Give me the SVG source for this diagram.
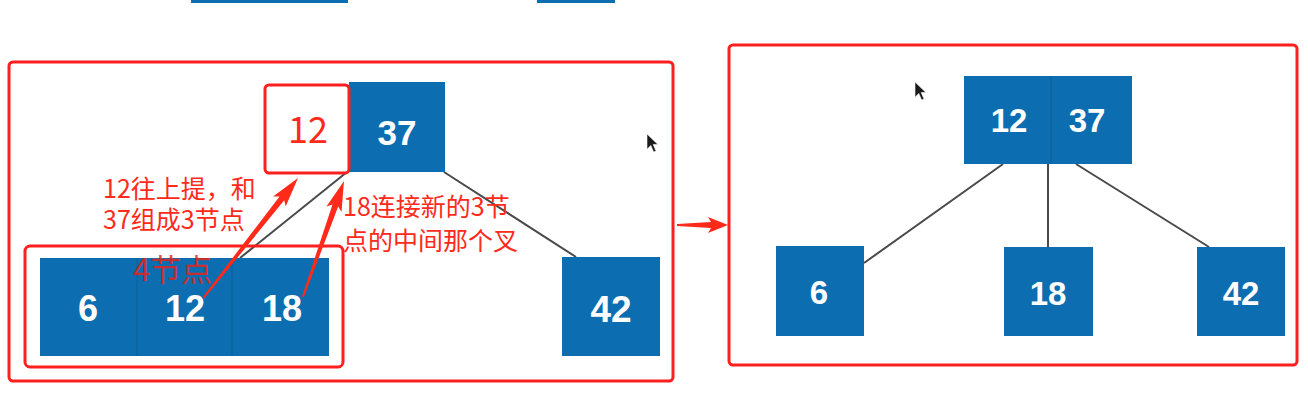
<svg xmlns="http://www.w3.org/2000/svg" width="1308" height="407" viewBox="0 0 1308 407">
<style>
.blk{fill:#0c6eb0}
.div{stroke:#0a5e98;stroke-width:1}
.num{font-family:"Liberation Sans",Arial,sans-serif;font-weight:bold;fill:#fff;text-anchor:middle}
.frame{fill:none;stroke:#ff1f1f;stroke-width:3}
.edge{stroke:#4a4a4a;stroke-width:2;fill:none}
.note{font-family:"Noto Sans CJK SC","Noto Sans",sans-serif;fill:#ff2a1a;font-size:25px}
.arr{fill:#ff2a1a}
.cur{fill:#1a1a1a;stroke:#fff;stroke-width:0.6}
</style>
<rect width="1308" height="407" fill="#fff"/>

<!-- partial blocks at top edge -->
<g id="top-partial">
<rect class="blk" x="191" y="-3" width="157" height="6"/>
<rect class="blk" x="537" y="-3" width="78" height="6"/>
</g>

<!-- left panel -->
<g id="left-frame"><rect class="frame" x="9" y="62" width="664" height="319" rx="4"/></g>

<g id="connectors">
<line class="edge" x1="347" y1="172" x2="240" y2="258"/>
<line class="edge" x1="444" y1="172" x2="576" y2="257"/>
<line class="edge" x1="1003" y1="164" x2="864" y2="263"/>
<line class="edge" x1="1048" y1="164" x2="1048" y2="247"/>
<line class="edge" x1="1076" y1="164" x2="1209" y2="247"/>
</g>

<g id="node-37-left">
<rect class="blk" x="349" y="82" width="96" height="90"/>
<text class="num" x="397" y="145" font-size="35">37</text>
</g>

<g id="node-12-raised">
<rect x="265" y="85" width="84" height="88" rx="4" fill="#fff" stroke="#ff1f1f" stroke-width="3"/>
<text x="308" y="143" font-family="Noto Sans CJK SC,Noto Sans,sans-serif" font-size="36" fill="#ff2a1a" text-anchor="middle">12</text>
</g>

<g id="node-4">
<rect class="blk" x="40" y="258" width="289" height="98"/>
<line class="div" x1="137" y1="258" x2="137" y2="356"/>
<line class="div" x1="232" y1="258" x2="232" y2="356"/>
<text class="num" x="88" y="321" font-size="36">6</text>
<text class="num" x="185" y="321" font-size="36">12</text>
<text class="num" x="282" y="321" font-size="36">18</text>
</g>
<g id="node-4-box"><rect class="frame" x="25" y="246" width="318" height="121" rx="5"/></g>

<g id="node-42-left">
<rect class="blk" x="562" y="257" width="98" height="99"/>
<text class="num" x="611" y="322" font-size="37">42</text>
</g>

<g id="label-4node">
<text x="133" y="281" font-family="Noto Sans CJK SC,Noto Sans,sans-serif" font-size="31" fill="#e8241a" fill-opacity="0.85">4节点</text>
</g>

<g id="notes">
<text class="note"><tspan x="103" y="198">12往上提，和</tspan><tspan x="103" y="229">37组成3节点</tspan></text>
<text class="note"><tspan x="343" y="216">18连接新的3节</tspan><tspan x="343" y="250">点的中间那个叉</tspan></text>
</g>

<g id="red-arrows">
<polygon class="arr" transform="translate(298,178) rotate(-51.7)" points="0,0 -30,-8 -26,-3 -152,-1 -152,1 -26,3 -30,8"/>
<polygon class="arr" transform="translate(344,181) rotate(-70.5)" points="0,0 -30,-8 -26,-3 -123,-1 -123,1 -26,3 -30,8"/>
<polygon class="arr" transform="translate(728,225)" points="0,0 -20,-8 -17,-3 -51,-1 -51,1 -17,3 -20,8"/>
</g>

<g id="cursor-left"><path class="cur" transform="translate(647,134) scale(0.95)" d="M0,0 L0,16 L4,12 L7,19 L9.5,18 L6.5,11 L11.5,11 Z"/></g>

<!-- right panel -->
<g id="right-frame"><rect class="frame" x="729" y="45" width="568" height="320" rx="4"/></g>

<g id="node-12-37">
<rect class="blk" x="964" y="76" width="168" height="88"/>
<line class="div" x1="1051" y1="76" x2="1051" y2="164"/>
<text class="num" x="1009" y="132" font-size="33">12</text>
<text class="num" x="1087" y="132" font-size="33">37</text>
</g>
<g id="node-6">
<rect class="blk" x="776" y="246" width="88" height="90"/>
<text class="num" x="819" y="304" font-size="33">6</text>
</g>
<g id="node-18">
<rect class="blk" x="1004" y="247" width="89" height="89"/>
<text class="num" x="1048" y="305" font-size="33">18</text>
</g>
<g id="node-42">
<rect class="blk" x="1197" y="247" width="88" height="89"/>
<text class="num" x="1241" y="305" font-size="33">42</text>
</g>

<g id="cursor-right"><path class="cur" transform="translate(915,82) scale(0.95)" d="M0,0 L0,16 L4,12 L7,19 L9.5,18 L6.5,11 L11.5,11 Z"/></g>
</svg>
